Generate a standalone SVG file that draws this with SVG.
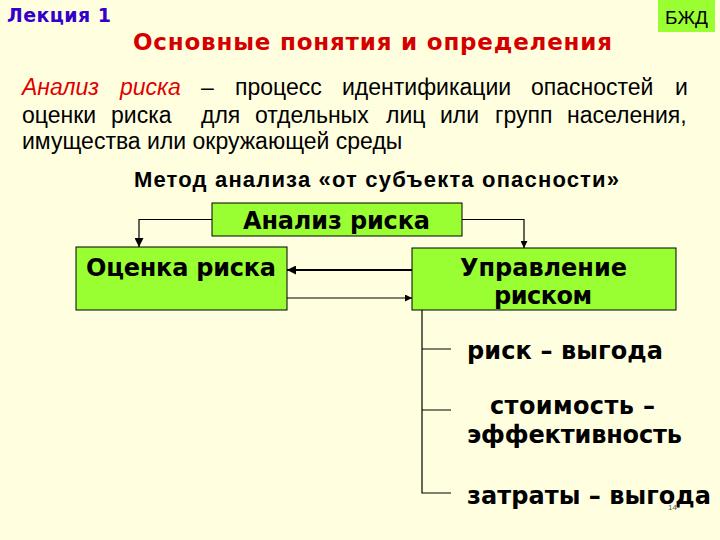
<svg xmlns="http://www.w3.org/2000/svg" width="720" height="540" viewBox="0 0 720 540">
<defs>
<style>
.bg{fill:#FFFFE0}
.box{fill:#99FF33;stroke:#000;stroke-width:1}
.v{font-family:"DejaVu Sans",Verdana,sans-serif;font-weight:bold}
.a{font-family:"Liberation Sans",Arial,sans-serif}
.p{font-family:"Liberation Sans",Arial,sans-serif;font-size:23px;fill:#000}
.bt{font-family:"DejaVu Sans",Verdana,sans-serif;font-weight:bold;font-size:24px;fill:#000}
.ln{fill:none;stroke:#000;stroke-width:1.2}
</style>
<marker id="ah" viewBox="0 0 10 10" refX="10" refY="5" markerWidth="7" markerHeight="7" markerUnits="userSpaceOnUse" orient="auto"><path d="M0,0L10,5L0,10z" fill="#000"/></marker>
<marker id="ahb" viewBox="0 0 10 10" refX="10" refY="5" markerWidth="9" markerHeight="9" markerUnits="userSpaceOnUse" orient="auto"><path d="M0,0L10,5L0,10z" fill="#000"/></marker>
</defs>
<rect class="bg" x="0" y="0" width="720" height="540"/>
<g id="header">
<text class="v" x="7" y="22" font-size="19" fill="#3300CC" textLength="104">Лекция 1</text>
<text class="v" x="133" y="50" font-size="23" fill="#D40000" textLength="479">Основные понятия и определения</text>
<rect x="658" y="0" width="57" height="32" fill="#99FF33"/>
<text class="a" x="686.5" y="24" font-size="19" text-anchor="middle" fill="#000">БЖД</text>
</g>
<g id="definition" class="p">
<text y="95"><tspan x="22" fill="#E00000" font-style="italic">Анализ</tspan><tspan x="120" fill="#E00000" font-style="italic">риска</tspan><tspan x="201">–</tspan><tspan x="235">процесс</tspan><tspan x="342">идентификации</tspan><tspan x="531">опасностей</tspan><tspan x="675">и</tspan></text>
<text y="123"><tspan x="22">оценки</tspan><tspan x="111">риска</tspan><tspan x="201">для</tspan><tspan x="255">отдельных</tspan><tspan x="386">лиц</tspan><tspan x="440">или</tspan><tspan x="495">групп</tspan><tspan x="567">населения,</tspan></text>
<text x="22" y="149">имущества или окружающей среды</text>
</g>
<g id="method">
<text class="a" x="134" y="187" font-size="22" font-weight="bold" fill="#000" textLength="485">Метод анализа «от субъекта опасности»</text>
</g>
<g id="connectors">
<path class="ln" d="M212,219.5H139V247" marker-end="url(#ahb)"/>
<path class="ln" d="M462,219.5H524V248" marker-end="url(#ah)"/>
<path d="M412,270H287" stroke="#000" stroke-width="2.2" fill="none" marker-end="url(#ahb)"/>
<path class="ln" d="M287,298H412" marker-end="url(#ah)"/>
<path class="ln" d="M422,310V493H451M422,349H451M422,410H451"/>
</g>
<g id="node-analysis">
<rect class="box" x="212" y="203" width="250" height="33"/>
<text class="bt" x="243" y="229" textLength="187">Анализ риска</text>
</g>
<g id="node-assessment">
<rect class="box" x="76" y="247" width="211" height="63"/>
<text class="bt" x="86" y="276" textLength="190">Оценка риска</text>
</g>
<g id="node-management">
<rect class="box" x="412" y="248" width="264" height="62"/>
<text class="bt" x="460" y="276" textLength="167">Управление</text>
<text class="bt" x="494" y="304" textLength="98">риском</text>
</g>
<g id="item-1">
<text class="bt" x="467" y="359" textLength="196">риск – выгода</text>
</g>
<g id="item-2">
<text class="bt" x="490" y="414" textLength="165">стоимость –</text>
<text class="bt" x="467" y="443" textLength="215">эффективность</text>
</g>
<g id="item-3">
<text class="bt" x="467" y="504" textLength="244">затраты – выгода</text>
</g>
<text class="a" x="668" y="510" font-size="8" fill="#555">14</text>
</svg>
